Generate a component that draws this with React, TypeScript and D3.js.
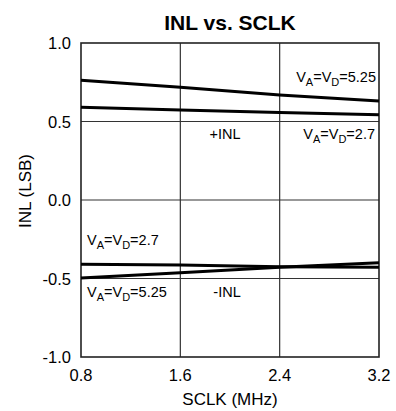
import React from "react";
import * as d3 from "d3";

const sclk = [0.8, 1.6, 2.4, 3.2];
const inlPos525 = [0.762, 0.718, 0.669, 0.631];
const inlPos27 = [0.59, 0.573, 0.558, 0.543];
const inlNeg27 = [-0.41, -0.414, -0.425, -0.429];
const inlNeg525 = [-0.497, -0.463, -0.429, -0.399];
const xTicks = [0.8, 1.6, 2.4, 3.2];
const yTicks = [-1.0, -0.5, 0.0, 0.5, 1.0];

const W = 396, H = 411;
const L = 81, R = 379, T = 43, B = 357;

const fmt = d3
  .formatLocale({ decimal: ".", thousands: ",", grouping: [3], currency: ["", ""], minus: "-" })
  .format(".1f");

export default function App() {
  const x = d3.scaleLinear().domain([0.8, 3.2]).range([L, R]);
  const y = d3.scaleLinear().domain([-1, 1]).range([B, T]);
  const line = d3.line<number>().x((_, i) => x(sclk[i])).y((v) => y(v));
  const font = "Arial, 'Liberation Sans', sans-serif";
  const series = [inlPos525, inlPos27, inlNeg27, inlNeg525];
  const label = (xx: number, yy: number, v: string, anchor: string) => (
    <text x={xx} y={yy} fontSize={14.5} textAnchor={anchor as any} fontFamily={font}>
      V<tspan fontSize={11} dy={4}>A</tspan>
      <tspan dy={-4}>=V</tspan>
      <tspan fontSize={11} dy={4}>D</tspan>
      <tspan dy={-4}>={v}</tspan>
    </text>
  );
  return (
    <svg width={W} height={H} style={{ position: "absolute", left: 0, top: 0 }}>
      <rect width={W} height={H} fill="#fff" />
      <text x={230} y={30} textAnchor="middle" fontSize={21} fontWeight="bold" fontFamily={font}>
        INL vs. SCLK
      </text>
      {xTicks.slice(1, -1).map((t) => (
        <line key={"gx" + t} x1={x(t)} x2={x(t)} y1={T} y2={B} stroke="#333" strokeWidth={1.2} />
      ))}
      {yTicks.slice(1, -1).map((t) => (
        <line key={"gy" + t} x1={L} x2={R} y1={y(t)} y2={y(t)} stroke="#333" strokeWidth={1.2} />
      ))}
      <rect x={L} y={T} width={R - L} height={B - T} fill="none" stroke="#222" strokeWidth={1.6} />
      {series.map((s, i) => (
        <path key={i} d={line(s) || ""} fill="none" stroke="#000" strokeWidth={3} />
      ))}
      {yTicks.map((t) => (
        <text key={"yt" + t} x={71} y={y(t) + 6} textAnchor="end" fontSize={16.5} fontFamily={font}>
          {fmt(t)}
        </text>
      ))}
      {xTicks.map((t) => (
        <text key={"xt" + t} x={x(t)} y={381} textAnchor="middle" fontSize={16.5} fontFamily={font}>
          {fmt(t)}
        </text>
      ))}
      <text x={230} y={405} textAnchor="middle" fontSize={17} fontFamily={font}>SCLK (MHz)</text>
      <text transform={`translate(31,191) rotate(-90)`} textAnchor="middle" fontSize={17} fontFamily={font}>
        INL (LSB)
      </text>
      {label(376, 82, "5.25", "end")}
      {label(375, 139, "2.7", "end")}
      <text x={225} y={139} textAnchor="middle" fontSize={14.5} fontFamily={font}>+INL</text>
      {label(87, 245, "2.7", "start")}
      {label(87, 297, "5.25", "start")}
      <text x={227} y={297} textAnchor="middle" fontSize={14.5} fontFamily={font}>-INL</text>
    </svg>
  );
}
